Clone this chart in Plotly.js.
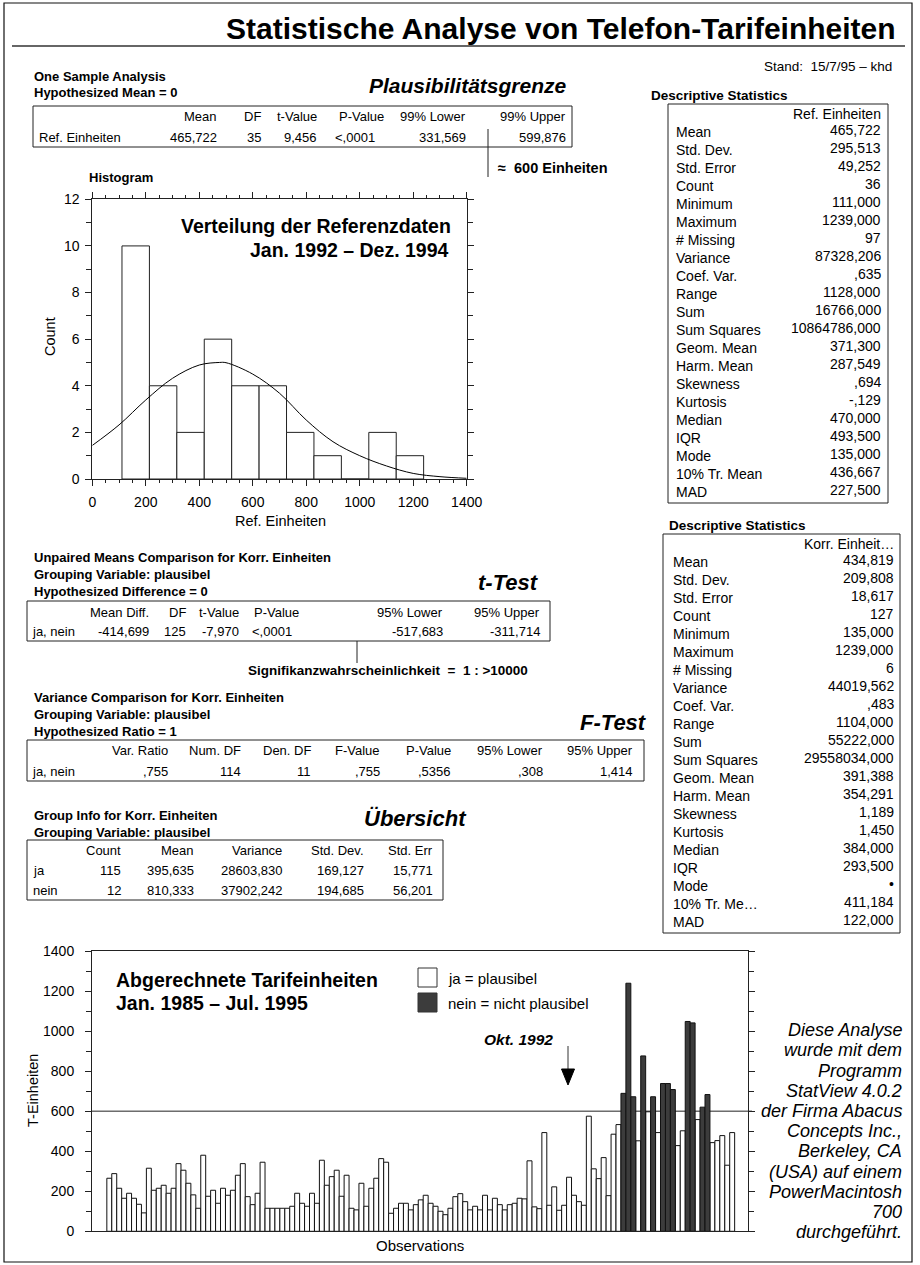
<!DOCTYPE html>
<html><head><meta charset="utf-8">
<script src="https://cdn.plot.ly/plotly-3.0.1.min.js"></script>
<style>html,body{margin:0;padding:0;background:#fff}#chart{width:920px;height:1265px}</style>
</head><body><div id="chart"></div>
<script>
const W = 920, H = 1265;
const SANS = 'Arial, "Liberation Sans", Helvetica, sans-serif';

// ---------------- data ----------------
const histCounts = [10, 4, 2, 6, 4, 4, 2, 1, 0, 2, 1];
const histMin = 111, histMax = 1239;
const curveX = [0, 100, 200, 300, 400, 475, 500, 600, 700, 800, 900, 1000, 1100, 1200, 1300, 1400];
const curveY = [1.44, 2.32, 3.39, 4.32, 4.89, 5.0, 4.99, 4.5, 3.68, 2.53, 1.6, 1.0, 0.56, 0.24, 0.1, 0.03];

const obsValues = [
  265, 288, 215, 165, 190, 165, 135, 92, 315, 205,
  215, 230, 190, 215, 338, 305, 240, 182, 115, 380,
  175, 205, 140, 215, 180, 205, 280, 338, 173, 133,
  190, 345, 115, 115, 115, 115, 115, 125, 190, 140,
  125, 190, 140, 355, 230, 273, 305, 175, 280, 115,
  107, 240, 125, 215, 265, 363, 345, 90, 115, 140,
  140, 107, 133, 157, 180, 140, 125, 100, 83, 115,
  173, 188, 148, 107, 125, 107, 180, 107, 165, 133,
  107, 133, 140, 165, 162, 352, 122, 113, 493, 130,
  222, 105, 130, 270, 180, 148, 130, 575, 312, 263,
  368, 178, 485, 533, 689, 1239, 672, 452, 876, 597,
  672, 493, 738, 738, 708, 428, 502, 1048, 1041, 558,
  620, 683, 443, 453, 478, 330, 493
];
const neinObs = [105, 106, 107, 109, 111, 113, 114, 115, 118, 119, 121, 122];
const plausLimit = 600;

const oneSampleCols = ['Mean', 'DF', 't-Value', 'P-Value', '99% Lower', '99% Upper'];
const oneSampleRow = ['Ref. Einheiten', '465,722', '35', '9,456', '<,0001', '331,569', '599,876'];
const tTestCols = ['Mean Diff.', 'DF', 't-Value', 'P-Value', '95% Lower', '95% Upper'];
const tTestRow = ['ja, nein', '-414,699', '125', '-7,970', '<,0001', '-517,683', '-311,714'];
const fTestCols = ['Var. Ratio', 'Num. DF', 'Den. DF', 'F-Value', 'P-Value', '95% Lower', '95% Upper'];
const fTestRow = ['ja, nein', ',755', '114', '11', ',755', ',5356', ',308', '1,414'];
const groupCols = ['Count', 'Mean', 'Variance', 'Std. Dev.', 'Std. Err'];
const groupRowJa = ['ja', '115', '395,635', '28603,830', '169,127', '15,771'];
const groupRowNein = ['nein', '12', '810,333', '37902,242', '194,685', '56,201'];

const descLabelsRef = ['Mean', 'Std. Dev.', 'Std. Error', 'Count', 'Minimum', 'Maximum', '# Missing', 'Variance', 'Coef. Var.', 'Range', 'Sum', 'Sum Squares', 'Geom. Mean', 'Harm. Mean', 'Skewness', 'Kurtosis', 'Median', 'IQR', 'Mode', '10% Tr. Mean', 'MAD'];
const descLabelsKorr = ['Mean', 'Std. Dev.', 'Std. Error', 'Count', 'Minimum', 'Maximum', '# Missing', 'Variance', 'Coef. Var.', 'Range', 'Sum', 'Sum Squares', 'Geom. Mean', 'Harm. Mean', 'Skewness', 'Kurtosis', 'Median', 'IQR', 'Mode', '10% Tr. Me…', 'MAD'];
const descRef = ['465,722', '295,513', '49,252', '36', '111,000', '1239,000', '97', '87328,206', ',635', '1128,000', '16766,000', '10864786,000', '371,300', '287,549', ',694', '-,129', '470,000', '493,500', '135,000', '436,667', '227,500'];
const descKorr = ['434,819', '209,808', '18,617', '127', '135,000', '1239,000', '6', '44019,562', ',483', '1104,000', '55222,000', '29558034,000', '391,388', '354,291', '1,189', '1,450', '384,000', '293,500', '•', '411,184', '122,000'];

const noteLines = ['Diese Analyse', 'wurde mit dem', 'Programm', 'StatView 4.0.2', 'der Firma Abacus', 'Concepts Inc.,', 'Berkeley, CA', '(USA) auf einem', 'PowerMacintosh', '700', 'durchgeführt.'];

// ---------------- helpers ----------------
const px = x => x / W, py = y => 1 - y / H;
const esc = s => s.replace(/&/g, '&amp;').replace(/</g, '&lt;').replace(/>/g, '&gt;');
const annotations = [], shapes = [];
function txt(x, y, text, o = {}) {
  let t = esc(text);
  if (o.bold) t = '<b>' + t + '</b>';
  if (o.italic) t = '<i>' + t + '</i>';
  annotations.push({
    xref: 'paper', yref: 'paper', x: px(x), y: py(y), text: t, showarrow: false,
    xanchor: o.anchor || 'left', yanchor: 'middle', textangle: o.angle || 0,
    borderpad: 0, font: { family: SANS, size: o.size || 14, color: o.color || '#000' }
  });
}
function line(x0, y0, x1, y1, w = 1, c = '#222') {
  shapes.push({ type: 'line', xref: 'paper', yref: 'paper', x0: px(x0), y0: py(y0), x1: px(x1), y1: py(y1), line: { color: c, width: w } });
}
function rect(x0, y0, x1, y1, fill = 'rgba(0,0,0,0)', w = 1, c = '#222') {
  shapes.push({ type: 'rect', xref: 'paper', yref: 'paper', x0: px(x0), y0: py(y0), x1: px(x1), y1: py(y1), fillcolor: fill, line: { color: c, width: w } });
}
function tableRow(cells, labelX, rightXs, y, size) {
  if (cells.length > rightXs.length) {
    txt(labelX, y, cells[0], { size });
    cells.slice(1).forEach((c, i) => txt(rightXs[i], y, c, { anchor: 'right', size }));
  } else {
    cells.forEach((c, i) => txt(rightXs[i], y, c, { anchor: 'right', size }));
  }
}

// ---------------- page frame & title ----------------
rect(4, 3, 912, 1262, 'rgba(0,0,0,0)', 1.2, '#111');
txt(897, 29, 'Statistische Analyse von Telefon-Tarifeinheiten', { anchor: 'right', bold: true, size: 30 });
line(12, 46, 905, 46, 1.5, '#333');
txt(893, 66, 'Stand:  15/7/95 – khd', { anchor: 'right', size: 13.5 });

// ---------------- one sample analysis ----------------
txt(33, 77, 'One Sample Analysis', { bold: true, size: 13 });
txt(33, 92, 'Hypothesized Mean = 0', { bold: true, size: 13 });
txt(468, 85, 'Plausibilitätsgrenze', { anchor: 'center', bold: true, italic: true, size: 21 });
rect(33, 106, 572, 147);
tableRow(oneSampleCols, 0, [218, 262, 318, 385, 467, 567], 116, 13);
tableRow(oneSampleRow, 38, [218, 262, 318, 376, 467, 567], 137, 13);
line(488, 129, 488, 177);
txt(497, 168, '≈  600 Einheiten', { bold: true, size: 14.5 });

// ---------------- histogram texts ----------------
txt(88, 178, 'Histogram', { bold: true, size: 13 });
txt(452, 226, 'Verteilung der Referenzdaten', { anchor: 'right', bold: true, size: 19.5 });
txt(450, 250, 'Jan. 1992 – Dez. 1994', { anchor: 'right', bold: true, size: 19.5 });
txt(50, 337, 'Count', { anchor: 'center', angle: -90, size: 14.5 });
txt(280, 521, 'Ref. Einheiten', { anchor: 'center', size: 14.5 });

// ---------------- descriptive statistics ----------------
function descTable(headX, headY, box, hdr, labels, vals, labelX, valX, firstY) {
  txt(headX, headY, 'Descriptive Statistics', { bold: true, size: 13.5 });
  rect(box[0], box[1], box[2], box[3]);
  txt(valX, firstY - 18.3, hdr, { anchor: 'right', size: 14 });
  labels.forEach((l, i) => {
    txt(labelX, firstY + 18 * i, l, { size: 14 });
    txt(valX, firstY + 18 * i - 2, vals[i], { anchor: 'right', size: 14 });
  });
}
descTable(650, 95, [668, 104, 888, 503], 'Ref. Einheiten', descLabelsRef, descRef, 675, 882, 132);
descTable(668, 525, [663, 534, 900, 933], 'Korr. Einheit…', descLabelsKorr, descKorr, 672, 895, 562);

// ---------------- t-test ----------------
txt(33, 557, 'Unpaired Means Comparison for Korr. Einheiten', { bold: true, size: 13 });
txt(33, 574, 'Grouping Variable: plausibel', { bold: true, size: 13 });
txt(33, 591, 'Hypothesized Difference = 0', { bold: true, size: 13 });
txt(508, 582, 't-Test', { anchor: 'center', bold: true, italic: true, size: 22 });
rect(27, 601, 550, 641);
tableRow(tTestCols, 0, [150, 187, 240, 300, 444, 541], 612, 13);
tableRow(tTestRow, 31, [150, 187, 240, 293, 444, 541], 631, 13);
line(357, 641, 357, 663);
txt(388, 670, 'Signifikanzwahrscheinlichkeit  =  1 : >10000', { anchor: 'center', bold: true, size: 13.5 });

// ---------------- F-test ----------------
txt(33, 697, 'Variance Comparison for Korr. Einheiten', { bold: true, size: 13 });
txt(33, 714, 'Grouping Variable: plausibel', { bold: true, size: 13 });
txt(33, 731, 'Hypothesized Ratio = 1', { bold: true, size: 13 });
txt(613, 722, 'F-Test', { anchor: 'center', bold: true, italic: true, size: 22 });
rect(27, 740, 644, 781);
const fX = [169, 242, 312, 381, 452, 544, 634];
tableRow(fTestCols, 0, fX, 750, 13);
tableRow(fTestRow, 31, fX, 771, 13);

// ---------------- group info ----------------
txt(33, 815, 'Group Info for Korr. Einheiten', { bold: true, size: 13 });
txt(33, 832, 'Grouping Variable: plausibel', { bold: true, size: 13 });
txt(415, 818, 'Übersicht', { anchor: 'center', bold: true, italic: true, size: 22 });
rect(27, 840, 443, 900);
const gX = [122, 195, 283, 365, 434];
tableRow(groupCols, 0, gX, 850, 13);
tableRow(groupRowJa, 32, gX, 870, 13);
tableRow(groupRowNein, 32, gX, 890, 13);

// ---------------- bar chart texts ----------------
txt(115, 980, 'Abgerechnete Tarifeinheiten', { bold: true, size: 19.5 });
txt(115, 1003, 'Jan. 1985 – Jul. 1995', { bold: true, size: 19.5 });
rect(418, 968, 437, 987, '#ffffff', 1, '#333');
rect(418, 993, 437, 1012, '#3c3c3c', 1, '#333');
txt(447, 978, 'ja = plausibel', { size: 15 });
txt(447, 1003, 'nein = nicht plausibel', { size: 15 });
txt(518, 1039, 'Okt. 1992', { anchor: 'center', bold: true, italic: true, size: 15.5 });
line(568, 1046, 568, 1072, 1, '#333');
shapes.push({ type: 'path', xref: 'paper', yref: 'paper', path: `M ${px(561.5)},${py(1069)} L ${px(574.5)},${py(1069)} L ${px(568)},${py(1085)} Z`, fillcolor: '#000', line: { color: '#000', width: 1 } });
txt(33, 1091, 'T-Einheiten', { anchor: 'center', angle: -90, size: 14.5 });
txt(420, 1245, 'Observations', { anchor: 'center', size: 15 });
noteLines.forEach((l, i) => txt(903, 1111 + (i - 4) * 20.2, l, { anchor: 'right', italic: true, size: 18 }));

// plausibility limit line (data coords on y2)
shapes.push({ type: 'line', xref: 'paper', yref: 'y2', x0: px(92), x1: px(752), y0: plausLimit, y1: plausLimit, layer: 'below', line: { color: '#222', width: 1 } });

// ---------------- traces ----------------
const binW = (histMax - histMin) / histCounts.length;
const binCenters = histCounts.map((_, i) => histMin + binW * (i + 0.5));
const obsX = obsValues.map((_, i) => i + 1);
const jaY = obsValues.map((v, i) => neinObs.includes(i + 1) ? null : v);
const neinY = obsValues.map((v, i) => neinObs.includes(i + 1) ? v : null);

const traces = [
  { type: 'bar', x: binCenters, y: histCounts, width: binW, xaxis: 'x', yaxis: 'y',
    marker: { color: '#ffffff', line: { color: '#222', width: 1 } }, hoverinfo: 'skip' },
  { type: 'scatter', mode: 'lines', x: curveX, y: curveY, xaxis: 'x', yaxis: 'y',
    line: { color: '#000', width: 1, shape: 'spline' }, hoverinfo: 'skip' },
  { type: 'bar', x: obsX, y: jaY, xaxis: 'x2', yaxis: 'y2', width: 1,
    marker: { color: '#ffffff', line: { color: '#111', width: 1 } }, hoverinfo: 'skip' },
  { type: 'bar', x: obsX, y: neinY, xaxis: 'x2', yaxis: 'y2', width: 1,
    marker: { color: '#3c3c3c', line: { color: '#111', width: 1 } }, hoverinfo: 'skip' }
];

const axCommon = { showgrid: false, zeroline: false, showline: true, linecolor: '#222', linewidth: 1,
  tickcolor: '#222', tickwidth: 1, tickfont: { family: SANS, size: 14, color: '#000' }, fixedrange: true };

const layout = {
  width: W, height: H, margin: { l: 0, r: 0, t: 0, b: 0, pad: 0 },
  paper_bgcolor: '#ffffff', plot_bgcolor: 'rgba(0,0,0,0)', showlegend: false,
  barmode: 'overlay', bargap: 0, font: { family: SANS, size: 14, color: '#000' },
  xaxis: Object.assign({}, axCommon, { domain: [px(92.3), px(466.7)], range: [0, 1400], anchor: 'y',
    dtick: 200, ticks: 'outside', ticklen: 6, mirror: 'allticks', ticklabelstandoff: 4,
    minor: { dtick: 50, ticks: 'outside', ticklen: 3, tickcolor: '#222', showgrid: false } }),
  yaxis: Object.assign({}, axCommon, { domain: [py(479), py(199.3)], range: [0, 12], anchor: 'x',
    dtick: 2, ticks: 'outside', ticklen: 6, mirror: 'allticks', ticklabelstandoff: 3,
    minor: { dtick: 1, ticks: 'outside', ticklen: 5, tickcolor: '#222', showgrid: false } }),
  xaxis2: Object.assign({}, axCommon, { domain: [px(92), px(748)], range: [-2.5, 130.2], anchor: 'y2',
    showticklabels: false, ticks: '', mirror: true }),
  yaxis2: Object.assign({}, axCommon, { domain: [py(1231.3), py(951)], range: [0, 1400], anchor: 'x2',
    dtick: 200, ticks: 'outside', ticklen: 6, mirror: 'allticks', ticklabelstandoff: 8,
    minor: { dtick: 100, ticks: 'outside', ticklen: 5, tickcolor: '#222', showgrid: false } }),
  shapes, annotations
};

Plotly.newPlot('chart', traces, layout, { staticPlot: true, displayModeBar: false });
</script></body></html>
